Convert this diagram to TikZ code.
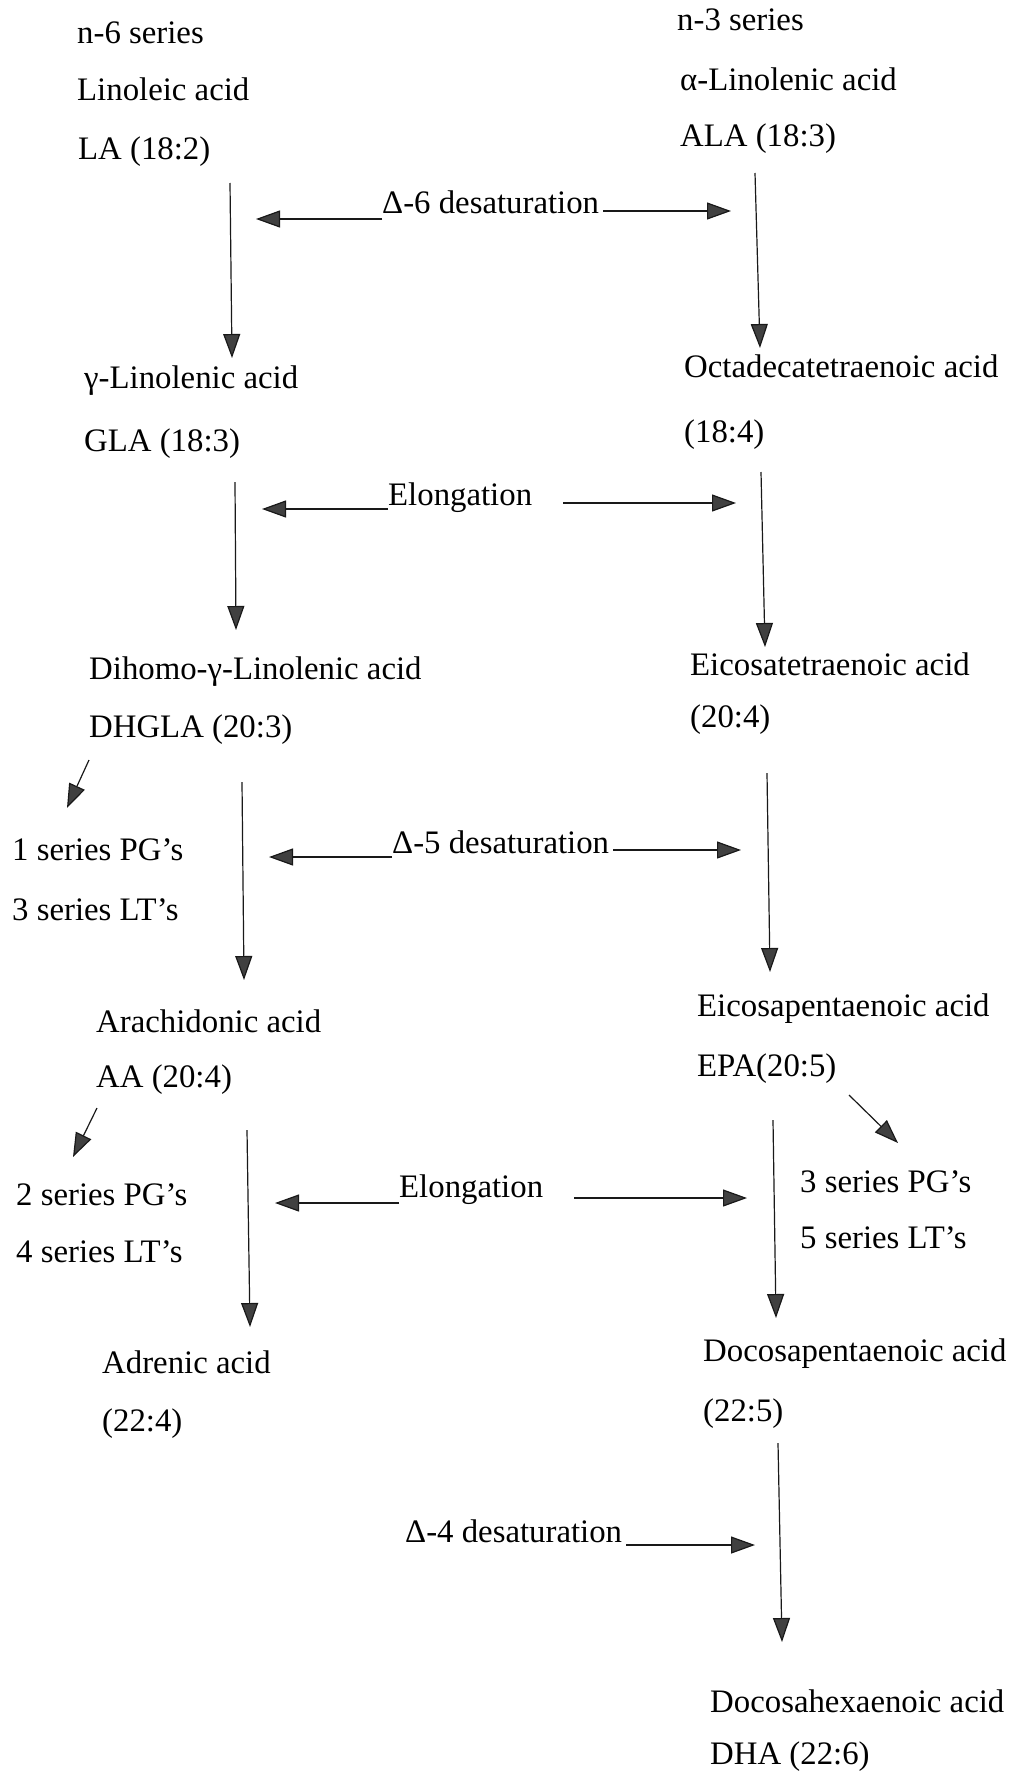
\documentclass[tikz,border=0pt]{standalone}
\usepackage{fontspec}
\setmainfont{Liberation Serif}
\usetikzlibrary{arrows.meta}
\begin{document}
\begin{tikzpicture}[x=1pt,y=-1pt,
  txt/.style={anchor=base west,inner sep=0pt,font=\fontsize{32.8}{40}\selectfont},
  arr/.style={line width=1.2pt,draw=black!90,-{Triangle[length=24pt,width=17pt,fill=black!75]}}]
\useasboundingbox (0,0) rectangle (1011,1772);
% left column texts
\node[txt] (n6)   at (77,43)   {n-6 series};
\node[txt] (lan)  at (77,100)  {Linoleic acid};
\node[txt] (la)   at (78,159)  {LA (18:2)};
\node[txt] (glan) at (84,388)  {γ-Linolenic acid};
\node[txt] (gla)  at (84,451)  {GLA (18:3)};
\node[txt] (dhn)  at (89,679)  {Dihomo-γ-Linolenic acid};
\node[txt] (dh)   at (89,737)  {DHGLA (20:3)};
\node[txt] (pg1)  at (12,860)  {1 series PG’s};
\node[txt] (lt3)  at (12,920)  {3 series LT’s};
\node[txt] (aan)  at (96,1032) {Arachidonic acid};
\node[txt] (aa)   at (96,1087) {AA (20:4)};
\node[txt] (pg2)  at (16,1205) {2 series PG’s};
\node[txt] (lt4)  at (16,1262) {4 series LT’s};
\node[txt] (adn)  at (102,1373) {Adrenic acid};
\node[txt] (ad)   at (102,1431) {(22:4)};
% right column texts
\node[txt] (n3)   at (677,30)   {n-3 series};
\node[txt] (alan) at (680,90)   {α-Linolenic acid};
\node[txt] (ala)  at (680,146)  {ALA (18:3)};
\node[txt] (odn)  at (684,377)  {Octadecatetraenoic acid};
\node[txt] (od)   at (684,442)  {(18:4)};
\node[txt] (etn)  at (690,675)  {Eicosatetraenoic acid};
\node[txt] (et)   at (690,727)  {(20:4)};
\node[txt] (epn)  at (697,1016) {Eicosapentaenoic acid};
\node[txt] (ep)   at (697,1076) {EPA(20:5)};
\node[txt] (pg3)  at (800,1192) {3 series PG’s};
\node[txt] (lt5)  at (800,1248) {5 series LT’s};
\node[txt] (dpn)  at (703,1361) {Docosapentaenoic acid};
\node[txt] (dp)   at (703,1421) {(22:5)};
\node[txt] (dhan) at (710,1712) {Docosahexaenoic acid};
\node[txt] (dha)  at (710,1764) {DHA (22:6)};
% enzyme labels
\node[txt] (d6)   at (382,213)  {Δ-6 desaturation};
\node[txt] (el1)  at (388,505)  {Elongation};
\node[txt] (d5)   at (392,853)  {Δ-5 desaturation};
\node[txt] (el2)  at (399,1197) {Elongation};
\node[txt] (d4)   at (405,1542) {Δ-4 desaturation};
% vertical arrow ends
\coordinate (l1a) at (230,183);  \coordinate (l1b) at (232,358);
\coordinate (r1a) at (755,173);  \coordinate (r1b) at (760,348);
\coordinate (l2a) at (235,482);  \coordinate (l2b) at (236,630);
\coordinate (r2a) at (761,472);  \coordinate (r2b) at (765,647);
\coordinate (l3a) at (242,782);  \coordinate (l3b) at (244,980);
\coordinate (r3a) at (767,773);  \coordinate (r3b) at (770,972);
\coordinate (l4a) at (247,1130); \coordinate (l4b) at (250,1327);
\coordinate (r4a) at (773,1120); \coordinate (r4b) at (776,1318);
\coordinate (r5a) at (778,1443); \coordinate (r5b) at (782,1642);
\draw[arr] (l1a) -- (l1b);
\draw[arr] (r1a) -- (r1b);
\draw[arr] (l2a) -- (l2b);
\draw[arr] (r2a) -- (r2b);
\draw[arr] (l3a) -- (l3b);
\draw[arr] (r3a) -- (r3b);
\draw[arr] (l4a) -- (l4b);
\draw[arr] (r4a) -- (r4b);
\draw[arr] (r5a) -- (r5b);
% diagonal arrows
\coordinate (dgA) at (89,760);   \coordinate (dgB) at (67,808);
\coordinate (aaA) at (97,1108);  \coordinate (aaB) at (73,1157);
\coordinate (epA) at (849,1095); \coordinate (epB) at (898,1143);
\draw[arr] (dgA) -- (dgB);
\draw[arr] (aaA) -- (aaB);
\draw[arr] (epA) -- (epB);
% horizontal enzyme arrows
\coordinate (d6L) at (256,219);  \coordinate (d6R) at (731,211);
\coordinate (e1L) at (262,509);  \coordinate (e1R) at (736,503);
\coordinate (d5L) at (269,857);  \coordinate (d5R) at (741,850);
\coordinate (e2L) at (275,1203); \coordinate (e2R) at (747,1198);
\coordinate (d4R) at (755,1545);
\draw[arr] (d6.base west) ++(0,6) -- (d6L);
\draw[arr] (d6.base east) ++(4,-2) -- (d6R);
\draw[arr] (el1.base west) ++(0,4) -- (e1L);
\draw[arr] (el1.base east) ++(31,-2) -- (e1R);
\draw[arr] (d5.base west) ++(0,4) -- (d5L);
\draw[arr] (d5.base east) ++(4,-3) -- (d5R);
\draw[arr] (el2.base west) ++(0,6) -- (e2L);
\draw[arr] (el2.base east) ++(31,1) -- (e2R);
\draw[arr] (d4.base east) ++(4,3) -- (d4R);
\end{tikzpicture}
\end{document}
